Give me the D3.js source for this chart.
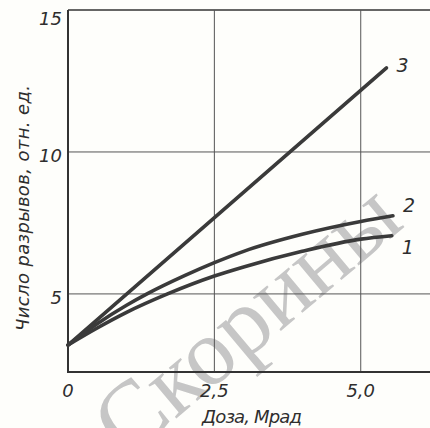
<!DOCTYPE html>
<html>
<head>
<meta charset="utf-8">
<script src="https://cdn.jsdelivr.net/npm/d3@7"></script>
<style>
  body { margin: 0; background: #fefefb; }
  svg { display: block; }
  text { font-family: "DejaVu Sans", sans-serif; font-style: italic; fill: #2e2e2e; }
</style>
</head>
<body>
<svg width="430" height="428"></svg>
<script>
// доза, Мрад и число разрывов для кривых 1, 2, 3
var dose1 = [0, 0.5, 1.0, 1.7, 2.5, 3.0, 4.0, 5.0, 5.53];
var breaks1 = [3.2, 3.8, 4.35, 5.0, 5.63, 5.95, 6.5, 6.93, 7.05];
var dose2 = [0, 0.5, 1.0, 1.35, 2.0, 2.5, 3.0, 4.0, 5.0, 5.55];
var breaks2 = [3.2, 3.95, 4.6, 5.0, 5.65, 6.1, 6.5, 7.1, 7.55, 7.75];
var dose3 = [0, 5.44];
var breaks3 = [3.2, 12.96];
var xTicks = [0, 2.5, 5.0];
var xTickLabels = ["0", "2,5", "5,0"];
var yTicks = [5, 10, 15];
var curveNames = ["1", "2", "3"];

var svg = d3.select("svg");
var x = d3.scaleLinear().domain([0, 6.2]).range([68, 431]);
var y = d3.scaleLinear().domain([2.25, 15]).range([372, 10]);

// watermark
svg.append("text")
    .attr("transform", "translate(53,522) rotate(-40)")
    .style("font-family", "'Liberation Serif', serif")
    .style("font-style", "normal")
    .style("font-size", "95px")
    .style("fill", "#c6c6c6")
    .text("© Скорины");

// grid
svg.selectAll(".hg").data(yTicks).enter().append("line")
    .attr("x1", x(0)).attr("x2", 430)
    .attr("y1", function(d) { return y(d); }).attr("y2", function(d) { return y(d); })
    .attr("stroke", d => d == 15 ? "#333" : "#555")
    .attr("stroke-width", d => d == 15 ? 1.5 : 1);
svg.selectAll(".vg").data(xTicks.slice(1)).enter().append("line")
    .attr("x1", function(d) { return x(d); }).attr("x2", function(d) { return x(d); })
    .attr("y1", y(15)).attr("y2", y(2.25))
    .attr("stroke", "#555").attr("stroke-width", 1);

// axes lines
svg.append("line").attr("x1", x(0)).attr("x2", x(0)).attr("y1", y(15)).attr("y2", y(2.25) + 1)
    .attr("stroke", "#333").attr("stroke-width", 2);
svg.append("line").attr("x1", x(0)).attr("x2", 430).attr("y1", y(2.25)).attr("y2", y(2.25))
    .attr("stroke", "#333").attr("stroke-width", 2);

// tick labels
svg.selectAll(".xl").data(xTicks).enter().append("text")
    .attr("x", function(d) { return x(d); }).attr("y", 397)
    .attr("text-anchor", "middle").style("font-size", "18px")
    .text(function(d, i) { return xTickLabels[i]; });
svg.selectAll(".yl").data(yTicks).enter().append("text")
    .attr("x", 62).attr("y", function(d) { return y(d) + (d == 15 ? 15 : 10); })
    .attr("text-anchor", "end").style("font-size", "18px")
    .text(function(d) { return d; });

// titles
svg.append("text").attr("x", 252).attr("y", 423).attr("text-anchor", "middle")
    .attr("textLength", 100).style("font-size", "18px").text("Доза, Мрад");
svg.append("text").attr("transform", "translate(29,208) rotate(-90)").attr("text-anchor", "middle")
    .attr("textLength", 246).style("font-size", "18px").text("Число разрывов, отн. ед.");

// curves
var line = d3.line()
    .x(function(d) { return x(d[0]); })
    .y(function(d) { return y(d[1]); })
    .curve(d3.curveMonotoneX);
var series = [d3.zip(dose1, breaks1), d3.zip(dose2, breaks2), d3.zip(dose3, breaks3)];
svg.selectAll(".curve").data(series).enter().append("path")
    .attr("d", line)
    .attr("fill", "none")
    .attr("stroke", "#3a3a3a")
    .attr("stroke-width", 3.6)
    .attr("stroke-linecap", "round");

// curve numbers
svg.selectAll(".cn").data(series).enter().append("text")
    .attr("x", function(d) { return x(d[d.length - 1][0]) + 10; })
    .attr("y", function(d, i) { return y(d[d.length - 1][1]) + [18, -4, 4][i]; })
    .style("font-size", "19px")
    .text(function(d, i) { return curveNames[i]; });
</script>
</body>
</html>
